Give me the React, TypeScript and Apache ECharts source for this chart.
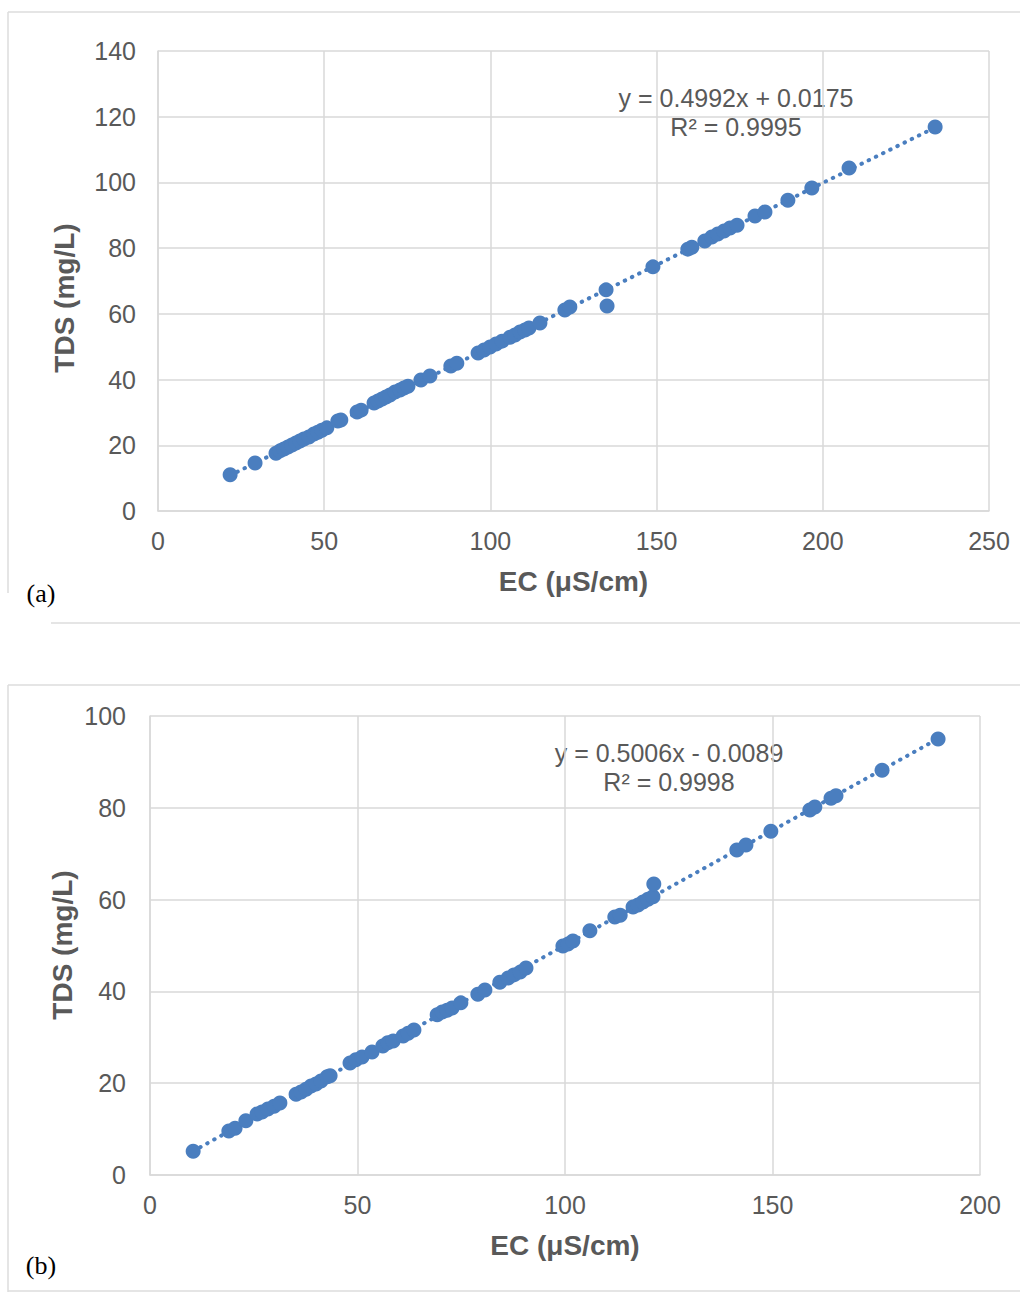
import React, { useEffect, useRef } from "react";
import * as echarts from "echarts";

// Panel (a)
const ecA = [21.7, 29.2, 35.5, 36.7, 37.9, 39.1, 40.3, 41.5, 42.7, 43.9, 45.4, 46.9, 48.1, 49.3, 50.8, 54.1, 55.0, 59.9, 61.1, 65.0, 66.2, 67.4, 68.6, 69.8, 71.3, 72.8, 74.0, 75.2, 79.1, 81.8, 88.1, 89.9, 96.3, 98.1, 99.9, 101.7, 103.5, 105.9, 107.4, 108.9, 110.4, 111.6, 114.9, 122.4, 123.9, 134.8, 135.1, 148.9, 159.4, 160.6, 164.5, 166.6, 168.4, 170.3, 172.1, 174.2, 179.6, 182.6, 189.5, 196.7, 207.9, 233.8];
const tdsA = [11.0, 14.6, 17.6, 18.3, 18.9, 19.5, 20.1, 20.7, 21.3, 21.9, 22.5, 23.4, 24.0, 24.6, 25.3, 27.4, 27.7, 30.1, 30.7, 32.9, 33.5, 34.1, 34.7, 35.3, 36.2, 36.8, 37.4, 38.0, 39.9, 41.1, 44.1, 45.0, 48.1, 49.0, 49.9, 50.8, 51.7, 52.9, 53.6, 54.5, 55.1, 55.7, 57.2, 61.2, 62.1, 67.3, 62.4, 74.3, 79.7, 80.3, 82.2, 83.4, 84.3, 85.2, 86.1, 87.0, 89.8, 91.0, 94.6, 98.3, 104.4, 116.9];
const slopeA = 0.4992;
const interceptA = 0.0175;
const eqA = ["y = 0.4992x + 0.0175", "R² = 0.9995"];
const xTicksA = { min: 0, max: 250, interval: 50 };
const yTicksA = { min: 0, max: 140, interval: 20 };

// Panel (b)
const ecB = [10.4, 19.0, 20.5, 23.1, 25.8, 27.0, 28.4, 29.9, 31.3, 35.2, 36.4, 37.6, 38.8, 40.0, 41.2, 42.7, 43.4, 48.2, 49.6, 51.1, 53.5, 56.1, 57.3, 58.6, 61.0, 62.2, 63.6, 69.2, 70.4, 71.6, 72.8, 74.9, 79.0, 80.7, 84.3, 86.3, 87.7, 89.2, 90.6, 99.5, 100.7, 101.9, 106.0, 112.0, 113.3, 116.4, 117.6, 118.8, 120.0, 121.2, 121.4, 141.4, 143.6, 149.6, 159.0, 160.2, 164.1, 165.3, 176.4, 189.9];
const tdsB = [5.2, 9.6, 10.2, 11.8, 13.3, 13.7, 14.4, 15.0, 15.7, 17.6, 18.1, 18.7, 19.4, 19.8, 20.5, 21.4, 21.6, 24.4, 25.1, 25.7, 26.8, 28.1, 28.8, 29.2, 30.3, 30.9, 31.6, 34.9, 35.5, 35.9, 36.4, 37.5, 39.4, 40.3, 42.0, 42.9, 43.6, 44.2, 45.1, 49.9, 50.3, 51.0, 53.2, 56.2, 56.6, 58.4, 58.8, 59.5, 60.1, 60.6, 63.4, 70.8, 71.9, 74.9, 79.5, 80.2, 82.1, 82.6, 88.2, 95.0];
const slopeB = 0.5006;
const interceptB = -0.0089;
const eqB = ["y = 0.5006x - 0.0089", "R² = 0.9998"];
const xTicksB = { min: 0, max: 200, interval: 50 };
const yTicksB = { min: 0, max: 100, interval: 20 };

const xTitle = "EC (μS/cm)";
const yTitle = "TDS (mg/L)";
const panelLabels = ["(a)", "(b)"];

const BLUE = "#4a7ebf";
const TEXT = "#595959";
const GRIDC = "#d9d9d9";
const FONT = "'Liberation Sans', Arial, sans-serif";
const LABEL_SIZE = 25;
const TITLE_SIZE = 28;

function trend(xs: number[], slope: number, intercept: number) {
  const lo = Math.min(...xs);
  const hi = Math.max(...xs);
  return [
    [lo, slope * lo + intercept],
    [hi, slope * hi + intercept],
  ];
}

function xAxisOf(idx: number, t: { min: number; max: number; interval: number }) {
  return {
    type: "value",
    gridIndex: idx,
    min: t.min,
    max: t.max,
    interval: t.interval,
    name: xTitle,
    nameLocation: "middle",
    nameGap: 56,
    nameTextStyle: { color: TEXT, fontSize: TITLE_SIZE, fontWeight: "bold", fontFamily: FONT },
    axisLine: { show: true, lineStyle: { color: GRIDC, width: 1.5 } },
    axisTick: { show: false },
    axisLabel: { color: TEXT, fontSize: LABEL_SIZE, fontFamily: FONT, margin: 17 },
    splitLine: { show: true, lineStyle: { color: GRIDC, width: 1.5 } },
  };
}

function yAxisOf(idx: number, t: { min: number; max: number; interval: number }, margin: number) {
  return {
    type: "value",
    gridIndex: idx,
    min: t.min,
    max: t.max,
    interval: t.interval,
    axisLine: { show: true, lineStyle: { color: GRIDC, width: 1.5 } },
    axisTick: { show: false },
    axisLabel: { color: TEXT, fontSize: LABEL_SIZE, fontFamily: FONT, margin },
    splitLine: { show: true, lineStyle: { color: GRIDC, width: 1.5 } },
  };
}

export default function App() {
  const ref = useRef<HTMLDivElement>(null);
  useEffect(() => {
    if (!ref.current) return;
    const chart = echarts.init(ref.current, undefined, { renderer: "svg" });
    const pairsA = ecA.map((x, i) => [x, tdsA[i]]);
    const pairsB = ecB.map((x, i) => [x, tdsB[i]]);
    const frame = { stroke: "#dcdcdc", lineWidth: 1.5 };
    const txt = (text: string, x: number, y: number, extra: any = {}) => ({
      type: "text",
      x,
      y,
      style: {
        text,
        fill: TEXT,
        font: `${LABEL_SIZE}px ${FONT}`,
        textAlign: "center",
        textVerticalAlign: "middle",
        ...extra,
      },
    });
    const serif = { fill: "#000000", font: "26px 'Liberation Serif', 'Times New Roman', serif" };
    chart.setOption({
      animation: false,
      backgroundColor: "#ffffff",
      grid: [
        { left: 158, top: 51, width: 831, height: 460 },
        { left: 150, top: 716, width: 830, height: 459 },
      ],
      xAxis: [xAxisOf(0, xTicksA), xAxisOf(1, xTicksB)],
      yAxis: [yAxisOf(0, yTicksA, 22), yAxisOf(1, yTicksB, 24)],
      series: [
        {
          type: "line",
          xAxisIndex: 0,
          yAxisIndex: 0,
          data: trend(ecA, slopeA, interceptA),
          showSymbol: false,
          lineStyle: { color: BLUE, width: 4, type: [0.5, 7.5], cap: "round" },
          z: 2,
          silent: true,
        },
        {
          type: "scatter",
          xAxisIndex: 0,
          yAxisIndex: 0,
          data: pairsA,
          symbolSize: 15,
          itemStyle: { color: BLUE, opacity: 1 },
          z: 3,
        },
        {
          type: "line",
          xAxisIndex: 1,
          yAxisIndex: 1,
          data: trend(ecB, slopeB, interceptB),
          showSymbol: false,
          lineStyle: { color: BLUE, width: 4, type: [0.5, 7.5], cap: "round" },
          z: 2,
          silent: true,
        },
        {
          type: "scatter",
          xAxisIndex: 1,
          yAxisIndex: 1,
          data: pairsB,
          symbolSize: 15,
          itemStyle: { color: BLUE, opacity: 1 },
          z: 3,
        },
      ],
      graphic: [
        { type: "line", shape: { x1: 8, y1: 12, x2: 1020, y2: 12 }, style: frame, silent: true },
        { type: "line", shape: { x1: 8, y1: 12, x2: 8, y2: 593 }, style: frame, silent: true },
        { type: "line", shape: { x1: 51, y1: 623, x2: 1020, y2: 623 }, style: frame, silent: true },
        { type: "line", shape: { x1: 8, y1: 685, x2: 1020, y2: 685 }, style: frame, silent: true },
        { type: "line", shape: { x1: 8, y1: 685, x2: 8, y2: 1292 }, style: frame, silent: true },
        { type: "line", shape: { x1: 8, y1: 1291, x2: 1020, y2: 1291 }, style: frame, silent: true },
        txt(eqA[0], 736, 98),
        txt(eqA[1], 736, 127),
        txt(eqB[0], 669, 753),
        txt(eqB[1], 669, 782),
        {
          type: "text",
          x: 64,
          y: 298,
          rotation: Math.PI / 2,
          style: { text: yTitle, fill: TEXT, font: `bold ${TITLE_SIZE}px ${FONT}`, textAlign: "center", textVerticalAlign: "middle" },
        },
        {
          type: "text",
          x: 62,
          y: 945,
          rotation: Math.PI / 2,
          style: { text: yTitle, fill: TEXT, font: `bold ${TITLE_SIZE}px ${FONT}`, textAlign: "center", textVerticalAlign: "middle" },
        },
        txt(panelLabels[0], 41, 593, serif),
        txt(panelLabels[1], 41, 1265, serif),
      ],
    });
    return () => chart.dispose();
  }, []);
  return (
    <div
      ref={ref}
      style={{ position: "absolute", left: 0, top: 0, width: 1020, height: 1292, background: "#fff" }}
    />
  );
}
